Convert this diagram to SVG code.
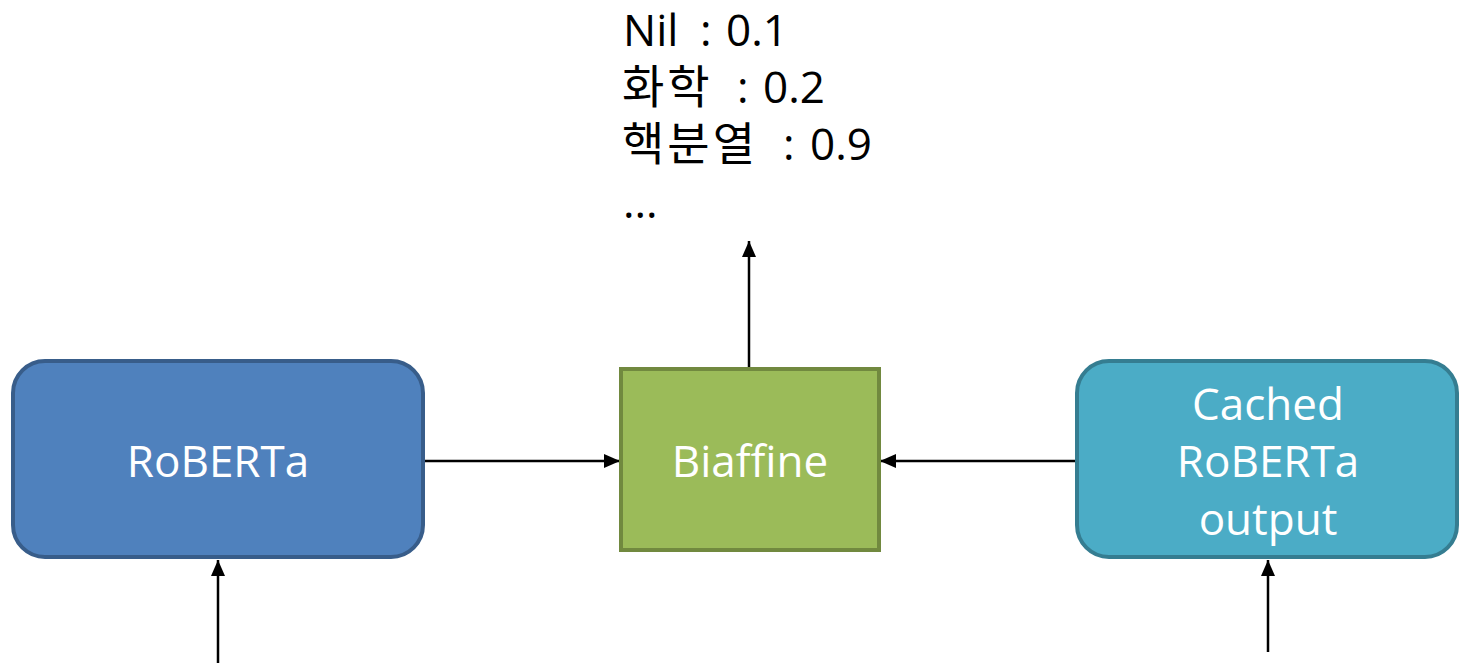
<svg xmlns="http://www.w3.org/2000/svg" width="1460" height="663" viewBox="0 0 1460 663">
<style>
.lbl{font-family:"Open Sans","Noto Sans CJK KR",sans-serif;font-size:44px;fill:#fff;text-anchor:middle}
.out{font-family:"Open Sans","Noto Sans CJK KR",sans-serif;font-size:44px;fill:#000}
.ko{font-size:46px;letter-spacing:3px}
.conn{stroke:#000;stroke-width:2.5;fill:none;marker-end:url(#ah)}
</style>
<defs>
<marker id="ah" viewBox="0 0 16 14" refX="16" refY="7" markerWidth="16" markerHeight="14" orient="auto" markerUnits="userSpaceOnUse">
<path d="M0,0 L16,7 L0,14 Z" fill="#000"/>
</marker>
</defs>
<g id="connectors">
<line class="conn" x1="424" y1="461" x2="620" y2="461"/>
<line class="conn" x1="1076" y1="461" x2="880" y2="461"/>
<line class="conn" x1="749" y1="368" x2="749" y2="241"/>
<line class="conn" x1="218" y1="663" x2="218" y2="560"/>
<line class="conn" x1="1268" y1="652" x2="1268" y2="560"/>
</g>
<g id="roberta">
<rect x="13" y="361" width="410" height="196" rx="32" fill="#4F81BD" stroke="#385D8A" stroke-width="4"/>
<text class="lbl" x="218" y="477">RoBERTa</text>
</g>
<g id="biaffine">
<rect x="621" y="369" width="258" height="181" fill="#9BBB59" stroke="#71893F" stroke-width="4"/>
<text class="lbl" x="750" y="477">Biaffine</text>
</g>
<g id="cached">
<rect x="1077" y="361" width="380" height="196" rx="32" fill="#4BACC6" stroke="#357D91" stroke-width="4"/>
<text class="lbl" x="1268" y="420">Cached</text>
<text class="lbl" x="1268" y="477">RoBERTa</text>
<text class="lbl" x="1268" y="535">output</text>
</g>
<g id="output">
<text class="out" y="46"><tspan x="623">Nil</tspan><tspan x="700">:</tspan><tspan x="726">0.1</tspan></text>
<text class="out" y="103"><tspan class="ko" x="622">화학</tspan><tspan x="737">:</tspan><tspan x="763">0.2</tspan></text>
<text class="out" y="160"><tspan class="ko" x="622">핵분열</tspan><tspan x="783">:</tspan><tspan x="810">0.9</tspan></text>
<text class="out" x="623" y="218">...</text>
</g>
</svg>
